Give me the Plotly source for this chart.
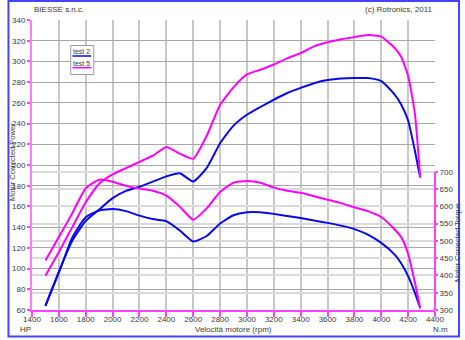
import plotly.graph_objects as go

# ---- data ----
rpm = [1500, 1600, 1700, 1800, 1900, 2000, 2100, 2200, 2300, 2400, 2500, 2600,
       2700, 2800, 2900, 3000, 3100, 3200, 3300, 3400, 3500, 3600, 3700, 3800,
       3900, 4000, 4100, 4150, 4200, 4250, 4290]

power_test2 = [64, 97, 127, 146, 157, 168, 175, 179, 184, 189, 192, 184,
               197, 221, 238, 248.5, 256, 263, 269.5, 274.5, 279, 282, 283.5, 284,
               284, 281, 268, 258, 243, 214, 188]

power_test5 = [93, 116, 140, 164, 182, 191, 197, 203, 209, 217.5, 211, 206,
               228, 258, 275, 287.5, 292, 297, 303, 308, 314.5, 318.5, 321.5, 323.5,
               325.5, 324, 313, 304, 286, 250, 188]

torque_test2 = [312, 408, 510, 568, 588, 592, 586, 573, 563, 557, 530, 498,
                514, 550, 574, 583, 583, 578, 572, 566, 559, 552, 544, 534,
                518, 494, 460, 434, 398, 350, 305]

torque_test5 = [443, 511, 580, 652, 677, 671, 659, 651, 645, 631, 599, 561,
                594, 641, 668, 673, 668, 654, 645, 639, 629, 619, 609, 597,
                586, 569, 533, 510, 462, 380, 305]

x_ticks = list(range(1400, 4401, 200))
power_ticks = list(range(60, 341, 20))
torque_ticks = list(range(300, 701, 50))

series_names = ["test 2", "test 5"]

BLUE = "#0a0ae8"
MAG = "#ff00ff"
AXIS = "#ff40ff"
TXT = "#3a3a3a"
FONT = "Liberation Sans, Arial, sans-serif"

fig = go.Figure()
line_style = dict(width=2, shape="spline", smoothing=0.5)

fig.add_trace(go.Scatter(x=rpm, y=power_test2, mode="lines", name=series_names[0],
                         line=dict(color=BLUE, **line_style), yaxis="y"))
fig.add_trace(go.Scatter(x=rpm, y=power_test5, mode="lines", name=series_names[1],
                         line=dict(color=MAG, **line_style), yaxis="y"))
fig.add_trace(go.Scatter(x=rpm, y=torque_test2, mode="lines", name=series_names[0],
                         line=dict(color=BLUE, **line_style), yaxis="y2"))
fig.add_trace(go.Scatter(x=rpm, y=torque_test5, mode="lines", name=series_names[1],
                         line=dict(color=MAG, **line_style), yaxis="y2"))

# right axis occupies lower 0.4769 of plot height for 300..700
frac = 0.4769
y2_top = 300 + 400 / frac

fig.update_layout(
    width=465, height=340,
    margin=dict(l=27, r=27, t=20, b=30),
    paper_bgcolor="white", plot_bgcolor="white",
    showlegend=False,
    font=dict(family=FONT, size=8, color=TXT),
    xaxis=dict(range=[1400, 4400], tickvals=x_ticks, showgrid=True,
               gridcolor="#c8c8c8", gridwidth=1.5, showline=True,
               linecolor=AXIS, linewidth=2, ticks="outside", ticklen=5,
               tickwidth=2, tickcolor=AXIS, zeroline=False,
               ticklabelstandoff=-5,
               tickfont=dict(size=8, color=TXT, family=FONT)),
    yaxis=dict(range=[60, 340], tickvals=power_ticks, showgrid=True,
               gridcolor="#a8a8a8", gridwidth=1, showline=True,
               linecolor="#ff7aff", linewidth=2, ticks="outside", ticklen=3,
               tickwidth=2, tickcolor=AXIS, zeroline=False,
               tickfont=dict(size=8, color=TXT, family=FONT)),
    yaxis2=dict(overlaying="y", side="right", anchor="x",
                range=[300, y2_top], tickvals=torque_ticks, showgrid=True,
                gridcolor="#dadada", gridwidth=2, showline=False,
                ticks="outside", ticklen=2, tickwidth=2, tickcolor=AXIS,
                zeroline=False, tickfont=dict(size=8, color=TXT, family=FONT)),
)

W, H = 411.0, 290.0
def px(x):
    return (x - 27) / W
def py(y):
    return (310 - y) / H

shapes = [
    # outer frame
    dict(type="rect", xref="paper", yref="paper", x0=px(3), x1=px(462.5),
         y0=py(336.5), y1=py(1), line=dict(color="#4444ff", width=2), layer="above"),
    # right axis line only 300..700
    dict(type="line", xref="paper", yref="y2", x0=1, x1=1, y0=300, y1=700,
         line=dict(color=AXIS, width=2), layer="above"),
    # legend box
    dict(type="rect", xref="paper", yref="paper", x0=px(66.5), x1=px(90),
         y0=py(74.5), y1=py(45.5), line=dict(color="#9a9a9a", width=1),
         fillcolor="white", layer="above"),
    dict(type="line", xref="paper", yref="paper", x0=px(68.3), x1=px(87.3),
         y0=py(56), y1=py(56), line=dict(color=BLUE, width=1.5), layer="above"),
    dict(type="line", xref="paper", yref="paper", x0=px(68.3), x1=px(87.3),
         y0=py(67.7), y1=py(67.7), line=dict(color=MAG, width=1.5), layer="above"),
]
fig.update_layout(shapes=shapes)

def ann(text, x, y, xanchor="center", angle=0, size=8):
    return dict(text=text, xref="paper", yref="paper", x=x, y=y,
                xanchor=xanchor, yanchor="middle", showarrow=False,
                textangle=angle, font=dict(size=size, color=TXT, family=FONT))

annotations = [
    ann("BIESSE s.n.c.", px(27.5), py(9.5), xanchor="left"),
    ann("(c) Rotronics, 2011", px(437.5), py(9.5), xanchor="right"),
    ann("HP", px(20.5), py(329.5)),
    ann("N.m", px(444), py(329.5)),
    ann("Velocità motore (rpm)", 0.5, py(329.5)),
    ann("Motor Corrected Power", px(6.5), py(162), angle=-90, size=7.5),
    ann("Motor Corrected Torque", px(460.5), py(243), angle=-90, size=7.5),
    ann(series_names[0], px(77.8), py(51.5), size=7),
    ann(series_names[1], px(77.8), py(63.2), size=7),
]
fig.update_layout(annotations=annotations)

fig.write_html("out.html")
